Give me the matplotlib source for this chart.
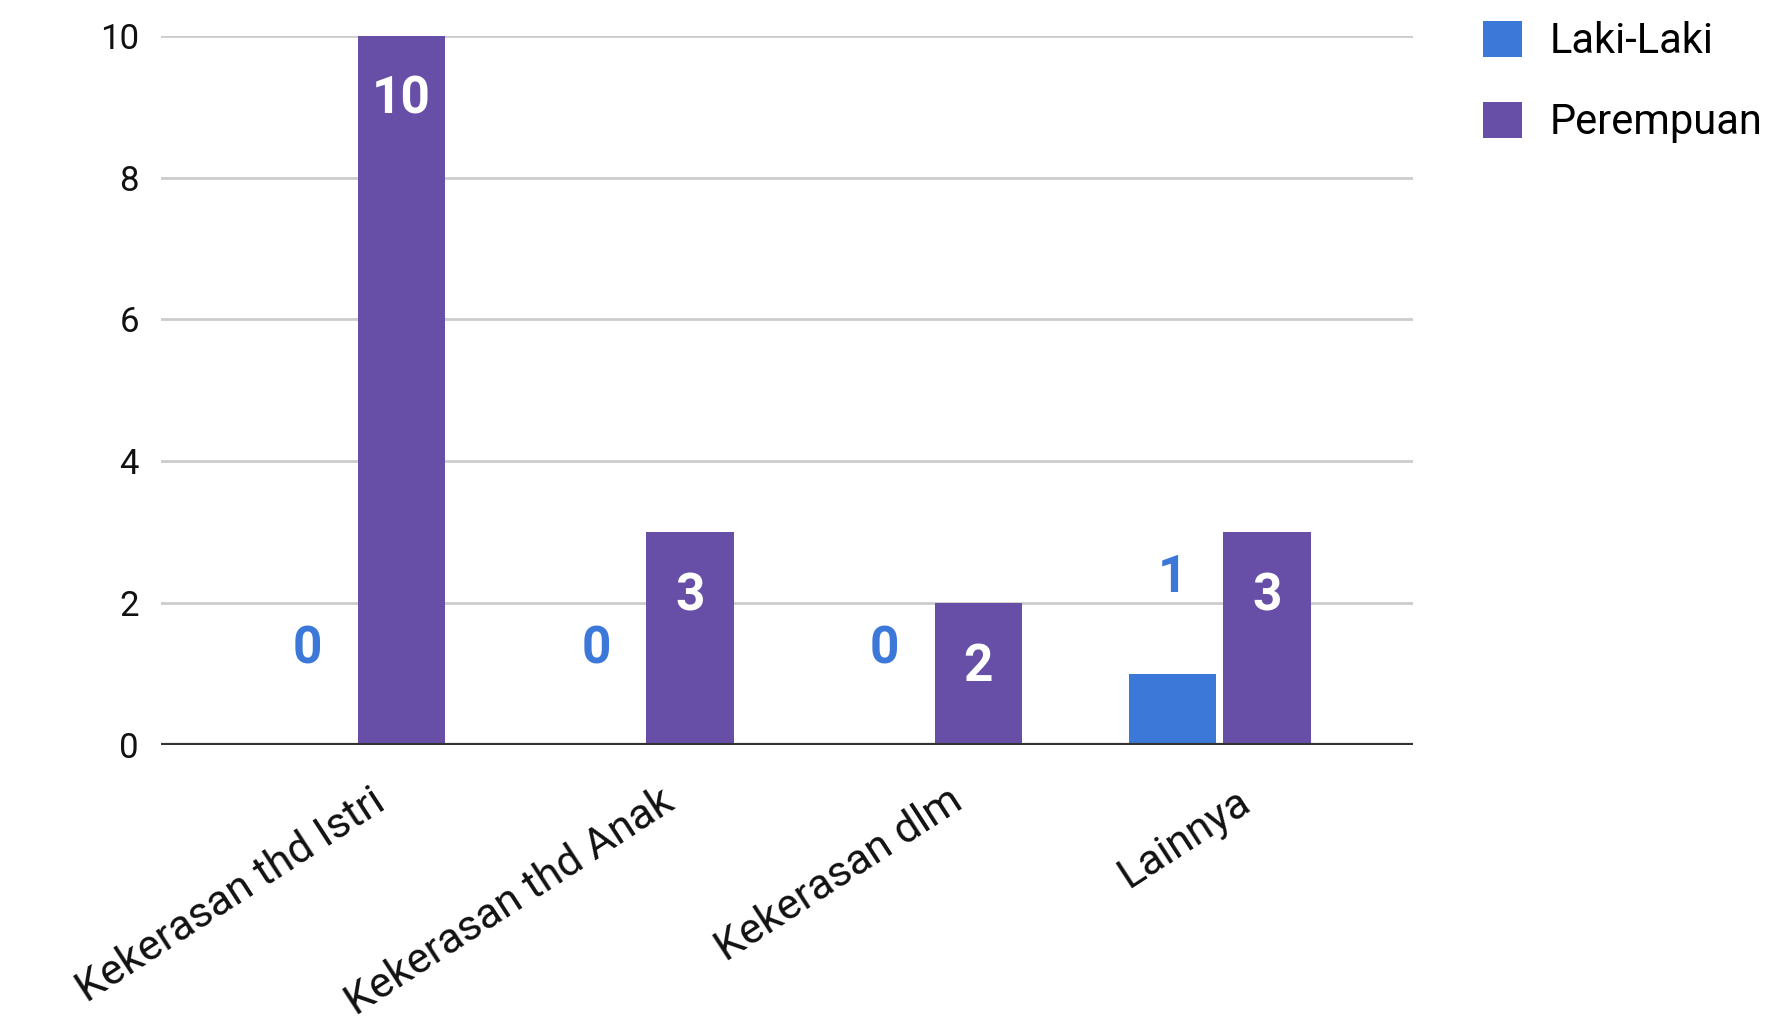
import numpy as np
import matplotlib
matplotlib.use("Agg")
import matplotlib.pyplot as plt
import matplotlib.transforms as mtransforms
from matplotlib.patches import Patch

plt.rcParams['font.family'] = ['Roboto', 'DejaVu Sans']

# data
categories = ["Kekerasan thd Istri", "Kekerasan thd Anak", "Kekerasan dlm", "Lainnya"]
laki_laki = [0, 0, 0, 1]
perempuan = [10, 3, 2, 3]
series_names = ["Laki-Laki", "Perempuan"]
yticks = [0, 2, 4, 6, 8, 10]

BLUE = '#3c78d8'
PURPLE = '#674ea7'

fig = plt.figure(figsize=(17.71, 10.24), dpi=100)
ax = fig.add_axes([0.091, 0.2725, 0.707, 0.6925])

x = np.arange(len(categories))
w = 0.302
off = 0.163

ax.bar(x - off, laki_laki, width=w, color=BLUE, zorder=3)
ax.bar(x + off, perempuan, width=w, color=PURPLE, zorder=3)

# value labels
for xi, v in zip(x, laki_laki):
    ax.text(xi - off, v + 1.35, str(v), color=BLUE, fontsize=37, fontweight='bold',
            ha='center', va='center', zorder=4)
for xi, v in zip(x, perempuan):
    ax.text(xi + off, v - 0.9, str(v), color='white', fontsize=37, fontweight='bold',
            ha='center', va='center', zorder=4)

ax.set_xlim(-0.67, len(categories) - 1 + 0.67)
ax.set_ylim(0, 10)
ax.set_yticks(yticks)
ax.set_yticklabels([str(t) for t in yticks], fontsize=25, color='#111111')
ax.yaxis.grid(True, color='#cccccc', linewidth=2, zorder=0)
ax.axhline(0, color='#333333', linewidth=3, zorder=5)
ax.tick_params(axis='y', length=0, pad=16)
ax.tick_params(axis='x', length=0, pad=38)

ax.set_xticks(x)
ax.set_xticklabels(categories, rotation=33, ha='right', va='center',
                   rotation_mode='anchor', fontsize=31, color='#111111')
shift = mtransforms.ScaledTranslation(27 / 100, 0, fig.dpi_scale_trans)
for lab in ax.get_xticklabels():
    lab.set_transform(lab.get_transform() + shift)

for s in ax.spines.values():
    s.set_visible(False)

handles = [Patch(facecolor=BLUE), Patch(facecolor=PURPLE)]
fig.legend(handles, series_names, loc='upper left', bbox_to_anchor=(0.816, 1.016),
           frameon=False, fontsize=30, handlelength=0.95, handleheight=0.95,
           labelspacing=0.95, handletextpad=0.65)

fig.savefig("out.png", dpi=100)
